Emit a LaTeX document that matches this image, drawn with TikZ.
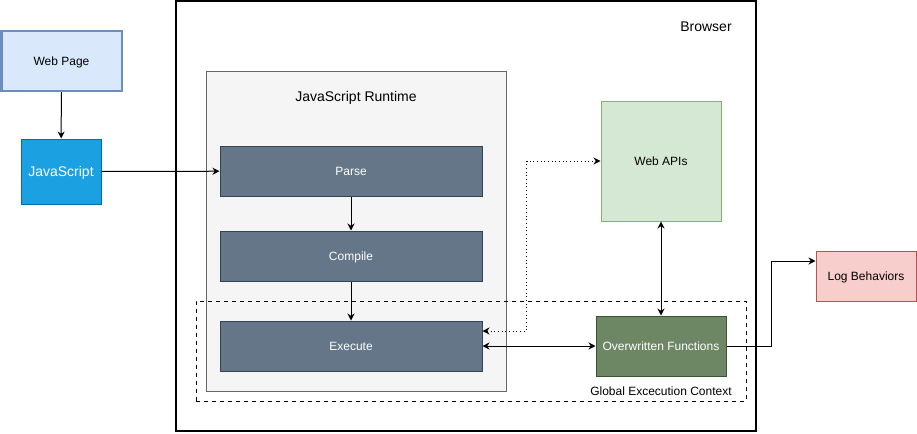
\documentclass[tikz,border=0pt]{standalone}
\usepackage{fontspec}
\setmainfont{Liberation Sans}
\usetikzlibrary{arrows.meta}
\definecolor{pagefill}{HTML}{DAE8FC}
\definecolor{pageline}{HTML}{6C8EBF}
\definecolor{jsfill}{HTML}{1BA1E2}
\definecolor{jsline}{HTML}{006EAF}
\definecolor{runfill}{HTML}{F5F5F5}
\definecolor{runline}{HTML}{666666}
\definecolor{stagefill}{HTML}{647687}
\definecolor{stageline}{HTML}{314354}
\definecolor{apifill}{HTML}{D5E8D4}
\definecolor{apiline}{HTML}{82B366}
\definecolor{hookfill}{HTML}{6D8764}
\definecolor{hookline}{HTML}{3A5431}
\definecolor{logfill}{HTML}{F8CECC}
\definecolor{logline}{HTML}{B85450}
\begin{document}
\begin{tikzpicture}[x=0.75pt, y=-0.75pt, line width=0.75pt,
    >={Stealth[length=5.25pt, width=5.25pt]},
    every node/.style={rectangle, inner sep=0pt, text height=0.9em, text depth=0.21em, font=\fontsize{9}{11}\selectfont},
    big/.style={font=\fontsize{10.5}{12}\selectfont},
    stagebox/.style={draw=stageline, fill=stagefill, text=white, minimum width=196.5pt, minimum height=37.5pt}]
  \useasboundingbox (0,0) rectangle (917,433);
  % outer boxes
  \node (browser) at (466,216) [draw, line width=1.5pt, minimum width=435pt, minimum height=322.5pt] {};
  \node (browserlabel) at (706,27) [big] {Browser};
  \node (runtime) at (356,231) [draw=runline, fill=runfill, minimum width=225pt, minimum height=240pt] {};
  \node (runtimelabel) at (356,97) [big] {JavaScript Runtime};
  % left side
  \node (page) at (61.5,61) [draw=pageline, fill=pagefill, line width=1.5pt, minimum width=90pt, minimum height=45pt] {Web Page};
  \node (js) at (61,171.5) [draw=jsline, fill=jsfill, text=white, big, minimum width=60pt, minimum height=48.75pt] {JavaScript};
  % runtime stages
  \node (parse) at (351,171) [stagebox] {Parse};
  \node (compile) at (351,256) [stagebox] {Compile};
  \node (execute) at (351,346) [stagebox] {Execute};
  % right side
  \node (apis) at (661,161) [draw=apiline, fill=apifill, minimum width=90pt, minimum height=90pt] {Web APIs};
  \node (hook) at (661,346) [draw=hookline, fill=hookfill, text=white, minimum width=97.5pt, minimum height=45pt] {Overwritten Functions};
  \node (log) at (866,276) [draw=logline, fill=logfill, minimum width=75pt, minimum height=37.5pt] {Log Behaviors};
  \node (context) at (471,351) [draw, dashed, minimum width=412.5pt, minimum height=75pt] {};
  \node (contextlabel) at (661,391) {Global Excecution Context};
  \foreach \source/\dest in {page/js, js/parse, parse/compile, compile/execute}
    \draw[->] (\source) -- (\dest);
  \draw[<->] (execute) -- (hook);
  \draw[<->] (apis) -- (hook);
  \draw[<->, dotted] ([yshift=11.25pt]execute.east) -- ++(44,0) |- (apis.west);
  \draw[->] (hook.east) -- ++(45,0) |- ([yshift=11.25pt]log.west);
\end{tikzpicture}
\end{document}
